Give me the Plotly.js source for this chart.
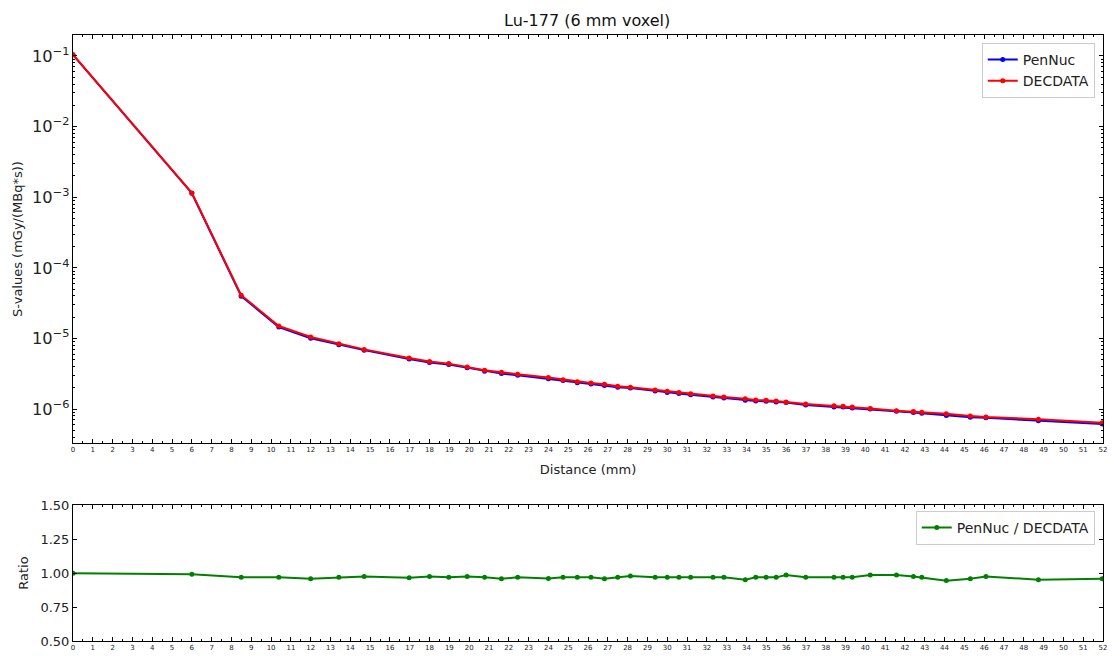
<!DOCTYPE html>
<html>
<head>
<meta charset="utf-8">
<script src="https://cdn.plot.ly/plotly-3.0.1.min.js"></script>
<style>html,body{margin:0;padding:0;background:#fff;}#chart{width:1112px;height:656px;}</style>
</head>
<body>
<div id="chart"></div>
<script>
const distance = [0, 6, 8.49, 10.39, 12, 13.42, 14.7, 16.97, 18, 18.97, 19.9, 20.78, 21.63, 22.45, 24, 24.74, 25.46, 26.15, 26.83, 27.5, 28.14, 29.39, 30, 30.59, 31.18, 32.31, 32.86, 33.94, 34.47, 34.99, 35.5, 36, 36.99, 38.42, 38.88, 39.34, 40.25, 41.57, 42.43, 42.85, 44.09, 45.3, 46.09, 48.74, 51.96];

const penNuc = [1.038e-1, 1.139e-3, 3.97e-5, 1.452e-5, 1.006e-5, 8.13e-6, 6.83e-6, 5.11e-6, 4.58e-6, 4.26e-6, 3.85e-6, 3.44e-6, 3.18e-6, 3.00e-6, 2.68e-6, 2.53e-6, 2.36e-6, 2.27e-6, 2.15e-6, 2.03e-6, 1.99e-6, 1.80e-6, 1.72e-6, 1.66e-6, 1.60e-6, 1.48e-6, 1.43e-6, 1.33e-6, 1.30e-6, 1.29e-6, 1.26e-6, 1.24e-6, 1.14e-6, 1.07e-6, 1.065e-6, 1.036e-6, 1.005e-6, 9.34e-7, 8.97e-7, 8.71e-7, 8.12e-7, 7.66e-7, 7.51e-7, 6.85e-7, 6.13e-7];

const decdata = [1.04e-1, 1.15e-3, 4.1e-5, 1.5e-5, 1.05e-5, 8.4e-6, 7.0e-6, 5.3e-6, 4.7e-6, 4.4e-6, 3.95e-6, 3.55e-6, 3.32e-6, 3.1e-6, 2.79e-6, 2.61e-6, 2.44e-6, 2.34e-6, 2.24e-6, 2.1e-6, 2.03e-6, 1.86e-6, 1.78e-6, 1.72e-6, 1.65e-6, 1.53e-6, 1.48e-6, 1.40e-6, 1.34e-6, 1.33e-6, 1.30e-6, 1.26e-6, 1.18e-6, 1.11e-6, 1.10e-6, 1.07e-6, 1.02e-6, 9.5e-7, 9.2e-7, 9.0e-7, 8.6e-7, 8.0e-7, 7.7e-7, 7.2e-7, 6.4e-7];

const ratio = [0.998, 0.990, 0.968, 0.968, 0.958, 0.968, 0.975, 0.965, 0.975, 0.968, 0.975, 0.968, 0.958, 0.968, 0.960, 0.968, 0.968, 0.968, 0.958, 0.968, 0.978, 0.968, 0.968, 0.968, 0.968, 0.968, 0.968, 0.951, 0.968, 0.968, 0.968, 0.985, 0.968, 0.968, 0.968, 0.968, 0.985, 0.985, 0.975, 0.968, 0.944, 0.958, 0.975, 0.951, 0.958];

const seriesNames = ['PenNuc', 'DECDATA', 'PenNuc / DECDATA'];
const titleText = 'Lu-177 (6 mm voxel)';
const xTitle = 'Distance (mm)';
const yTitle = 'S-values (mGy/(MBq*s))';
const y2Title = 'Ratio';
const xTicks = Array.from({length: 53}, (_, i) => i);
const ratioTicks = [0.5, 0.75, 1.0, 1.25, 1.5];

const FONT = 'DejaVu Sans, sans-serif';

const traces = [
  {x: distance, y: penNuc, name: seriesNames[0], type: 'scatter', mode: 'lines+markers',
   line: {color: '#0000ff', width: 2}, marker: {color: '#0000ff', size: 5}, xaxis: 'x', yaxis: 'y', legend: 'legend'},
  {x: distance, y: decdata, name: seriesNames[1], type: 'scatter', mode: 'lines+markers',
   line: {color: '#ff0000', width: 2}, marker: {color: '#ff0000', size: 5}, xaxis: 'x', yaxis: 'y', legend: 'legend'},
  {x: distance, y: ratio, name: seriesNames[2], type: 'scatter', mode: 'lines+markers',
   line: {color: '#008000', width: 2}, marker: {color: '#008000', size: 5}, xaxis: 'x2', yaxis: 'y2', legend: 'legend2'}
];

const xCommon = {
  range: [0, 52], tickvals: xTicks, ticktext: xTicks.map(String),
  ticks: 'inside', ticklen: 4, tickcolor: '#000', tickwidth: 1,
  minor: {dtick: 0.5, tick0: 0, ticks: 'inside', ticklen: 2, tickcolor: '#000'},
  showline: true, linecolor: '#000', linewidth: 1, mirror: 'ticks',
  showgrid: false, zeroline: false,
  tickfont: {family: FONT, size: 7, color: '#222'}
};

const layout = {
  width: 1112, height: 656,
  margin: {l: 73, r: 9, t: 35, b: 15},
  paper_bgcolor: '#fff', plot_bgcolor: '#fff',
  font: {family: FONT, color: '#222'},
  title: {text: titleText, x: 0.528, xanchor: 'center', y: 0.969, yanchor: 'middle', font: {family: FONT, size: 16, color: '#111'}},
  xaxis: Object.assign({}, xCommon, {anchor: 'y',
    title: {text: xTitle, font: {family: FONT, size: 13, color: '#222'}, standoff: 11}}),
  yaxis: {
    type: 'log', range: [-6.481, -0.703], domain: [0.3267, 1], anchor: 'x',
    dtick: 1, exponentformat: 'power', showexponent: 'all',
    ticks: 'inside', ticklen: 4, tickcolor: '#000',
    minor: {ticks: 'inside', ticklen: 2, tickcolor: '#000', dtick: 'D1'},
    showline: true, linecolor: '#000', linewidth: 1, mirror: 'ticks',
    showgrid: false, zeroline: false,
    tickfont: {family: FONT, size: 13, color: '#222'},
    title: {text: yTitle, font: {family: FONT, size: 13, color: '#222'}, standoff: 6}
  },
  xaxis2: Object.assign({}, xCommon, {anchor: 'y2', matches: 'x'}),
  yaxis2: {
    range: [0.5, 1.5], domain: [0, 0.2244], anchor: 'x2',
    tickvals: ratioTicks, tickformat: '.2f',
    ticks: 'inside', ticklen: 4, tickcolor: '#000',
    showline: true, linecolor: '#000', linewidth: 1, mirror: 'ticks',
    showgrid: false, zeroline: false,
    tickfont: {family: FONT, size: 13, color: '#222'},
    title: {text: y2Title, font: {family: FONT, size: 13, color: '#222'}, standoff: 8}
  },
  legend: {x: 0.992, y: 0.987, xanchor: 'right', yanchor: 'top',
    bgcolor: 'rgba(255,255,255,0.8)', bordercolor: '#cccccc', borderwidth: 1,
    font: {family: FONT, size: 14, color: '#222'}, itemwidth: 30, tracegroupgap: 2},
  legend2: {x: 0.992, y: 0.2145, xanchor: 'right', yanchor: 'top',
    bgcolor: 'rgba(255,255,255,0.8)', bordercolor: '#cccccc', borderwidth: 1,
    font: {family: FONT, size: 14, color: '#222'}, itemwidth: 30},
  showlegend: true
};

Plotly.newPlot('chart', traces, layout, {displayModeBar: false, staticPlot: true});
</script>
</body>
</html>
